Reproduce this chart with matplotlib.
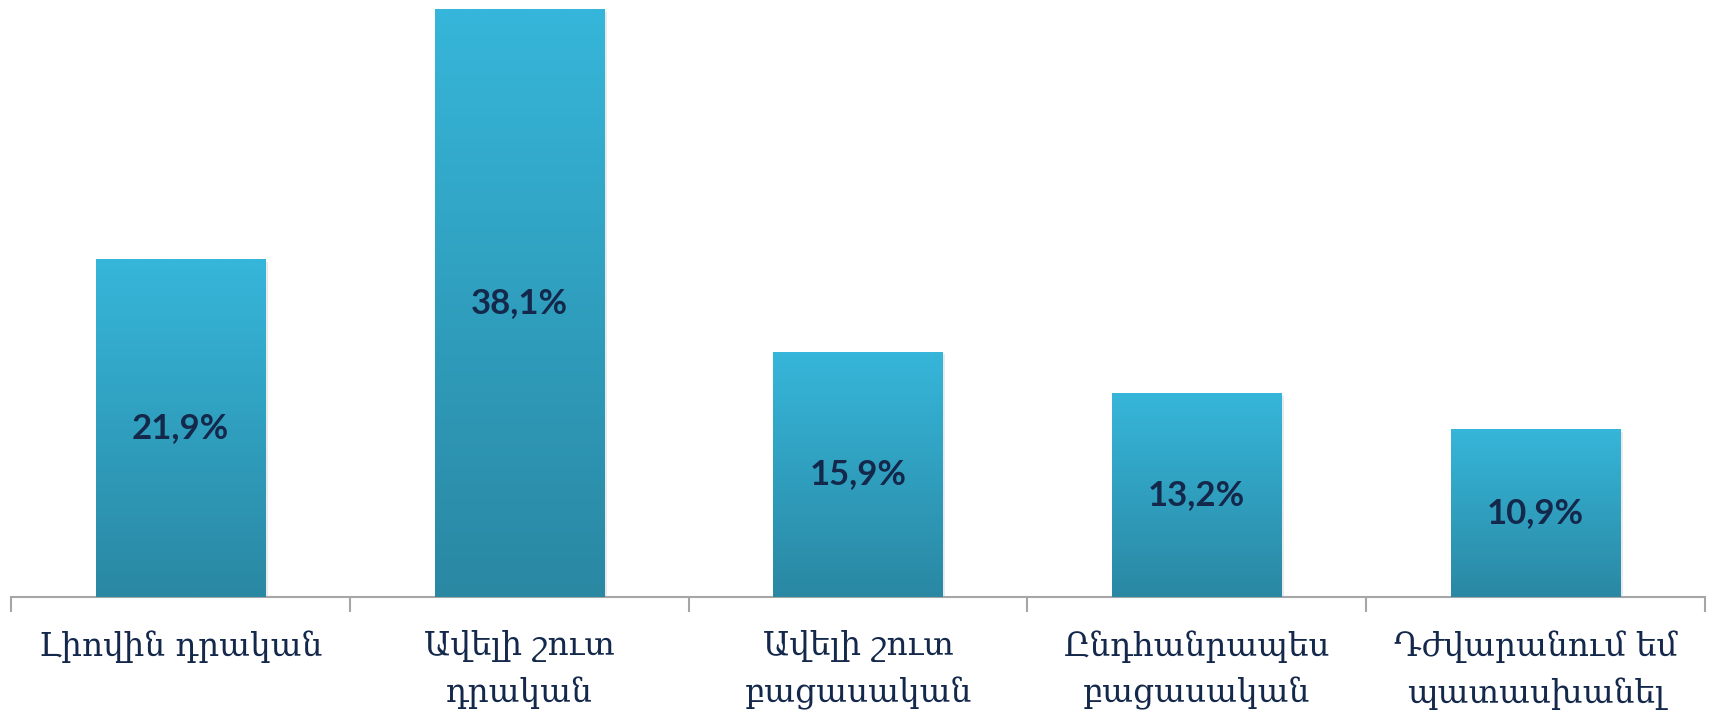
import numpy as np
import matplotlib
matplotlib.use('Agg')
import matplotlib.pyplot as plt
import matplotlib.colors as mcolors
import matplotlib.patheffects as PathEffects

# Data
categories = ['Լիովին դրական', 'Ավելի շուտ\nդրական', 'Ավելի շուտ\nբացասական',
              'Ընդհանրապես\nբացասական', 'Դժվարանում եմ\nպատասխանել']
values = [21.9, 38.1, 15.9, 13.2, 10.9]
value_labels = ['21,9%', '38,1%', '15,9%', '13,2%', '10,9%']

top_color = '#36b6da'
bottom_color = '#2a88a3'
text_color = '#14284b'

fig = plt.figure(figsize=(17.12, 7.2), dpi=100, facecolor='white')
ax = fig.add_axes([11 / 1712, 123 / 720, (1705 - 11) / 1712, 597 / 720])

x = np.arange(len(values))
bars = ax.bar(x, values, width=0.5, color=bottom_color, zorder=2)

ax.set_xlim(-0.5, len(values) - 0.5)
ax.set_ylim(0, 38.1 * 597 / 588)

# vertical gradient inside every bar
grad = np.linspace(0, 1, 256).reshape(-1, 1)
cmap = mcolors.LinearSegmentedColormap.from_list('bar', [bottom_color, top_color])
for b in bars:
    b.set_path_effects([PathEffects.SimplePatchShadow(offset=(2, -2), shadow_rgbFace='#999999', alpha=0.2),
                        PathEffects.Normal()])
    x0, w, h = b.get_x(), b.get_width(), b.get_height()
    im = ax.imshow(grad, cmap=cmap, origin='lower', aspect='auto',
                   extent=[x0, x0 + w, 0, h], zorder=3)
    im.set_clip_path(b)

for xi, v, lab in zip(x, values, value_labels):
    ax.text(xi, v / 2, lab, ha='center', va='center', fontsize=25, fontweight='bold',
            family=['Lato', 'DejaVu Sans'], color=text_color, zorder=5)

ax.set_xlim(-0.5, len(values) - 0.5)
ax.set_ylim(0, 38.1 * 597 / 588)

for s in ['top', 'right', 'left']:
    ax.spines[s].set_visible(False)
ax.spines['bottom'].set_color('#a6a6a6')
ax.spines['bottom'].set_linewidth(1.5)
ax.set_yticks([])

ax.set_xticks(np.arange(-0.5, len(values)), minor=True)
ax.tick_params(axis='x', which='minor', length=11, width=1.5, color='#a6a6a6', direction='out')
ax.set_xticks(x)
ax.set_xticklabels(categories, fontsize=23.5, color=text_color,
                   family=['DejaVu Serif', 'DejaVu Sans'], linespacing=1.55)
ax.tick_params(axis='x', which='major', length=0, pad=24)

plt.savefig('out.png', dpi=100, facecolor=fig.get_facecolor())
plt.close(fig)
